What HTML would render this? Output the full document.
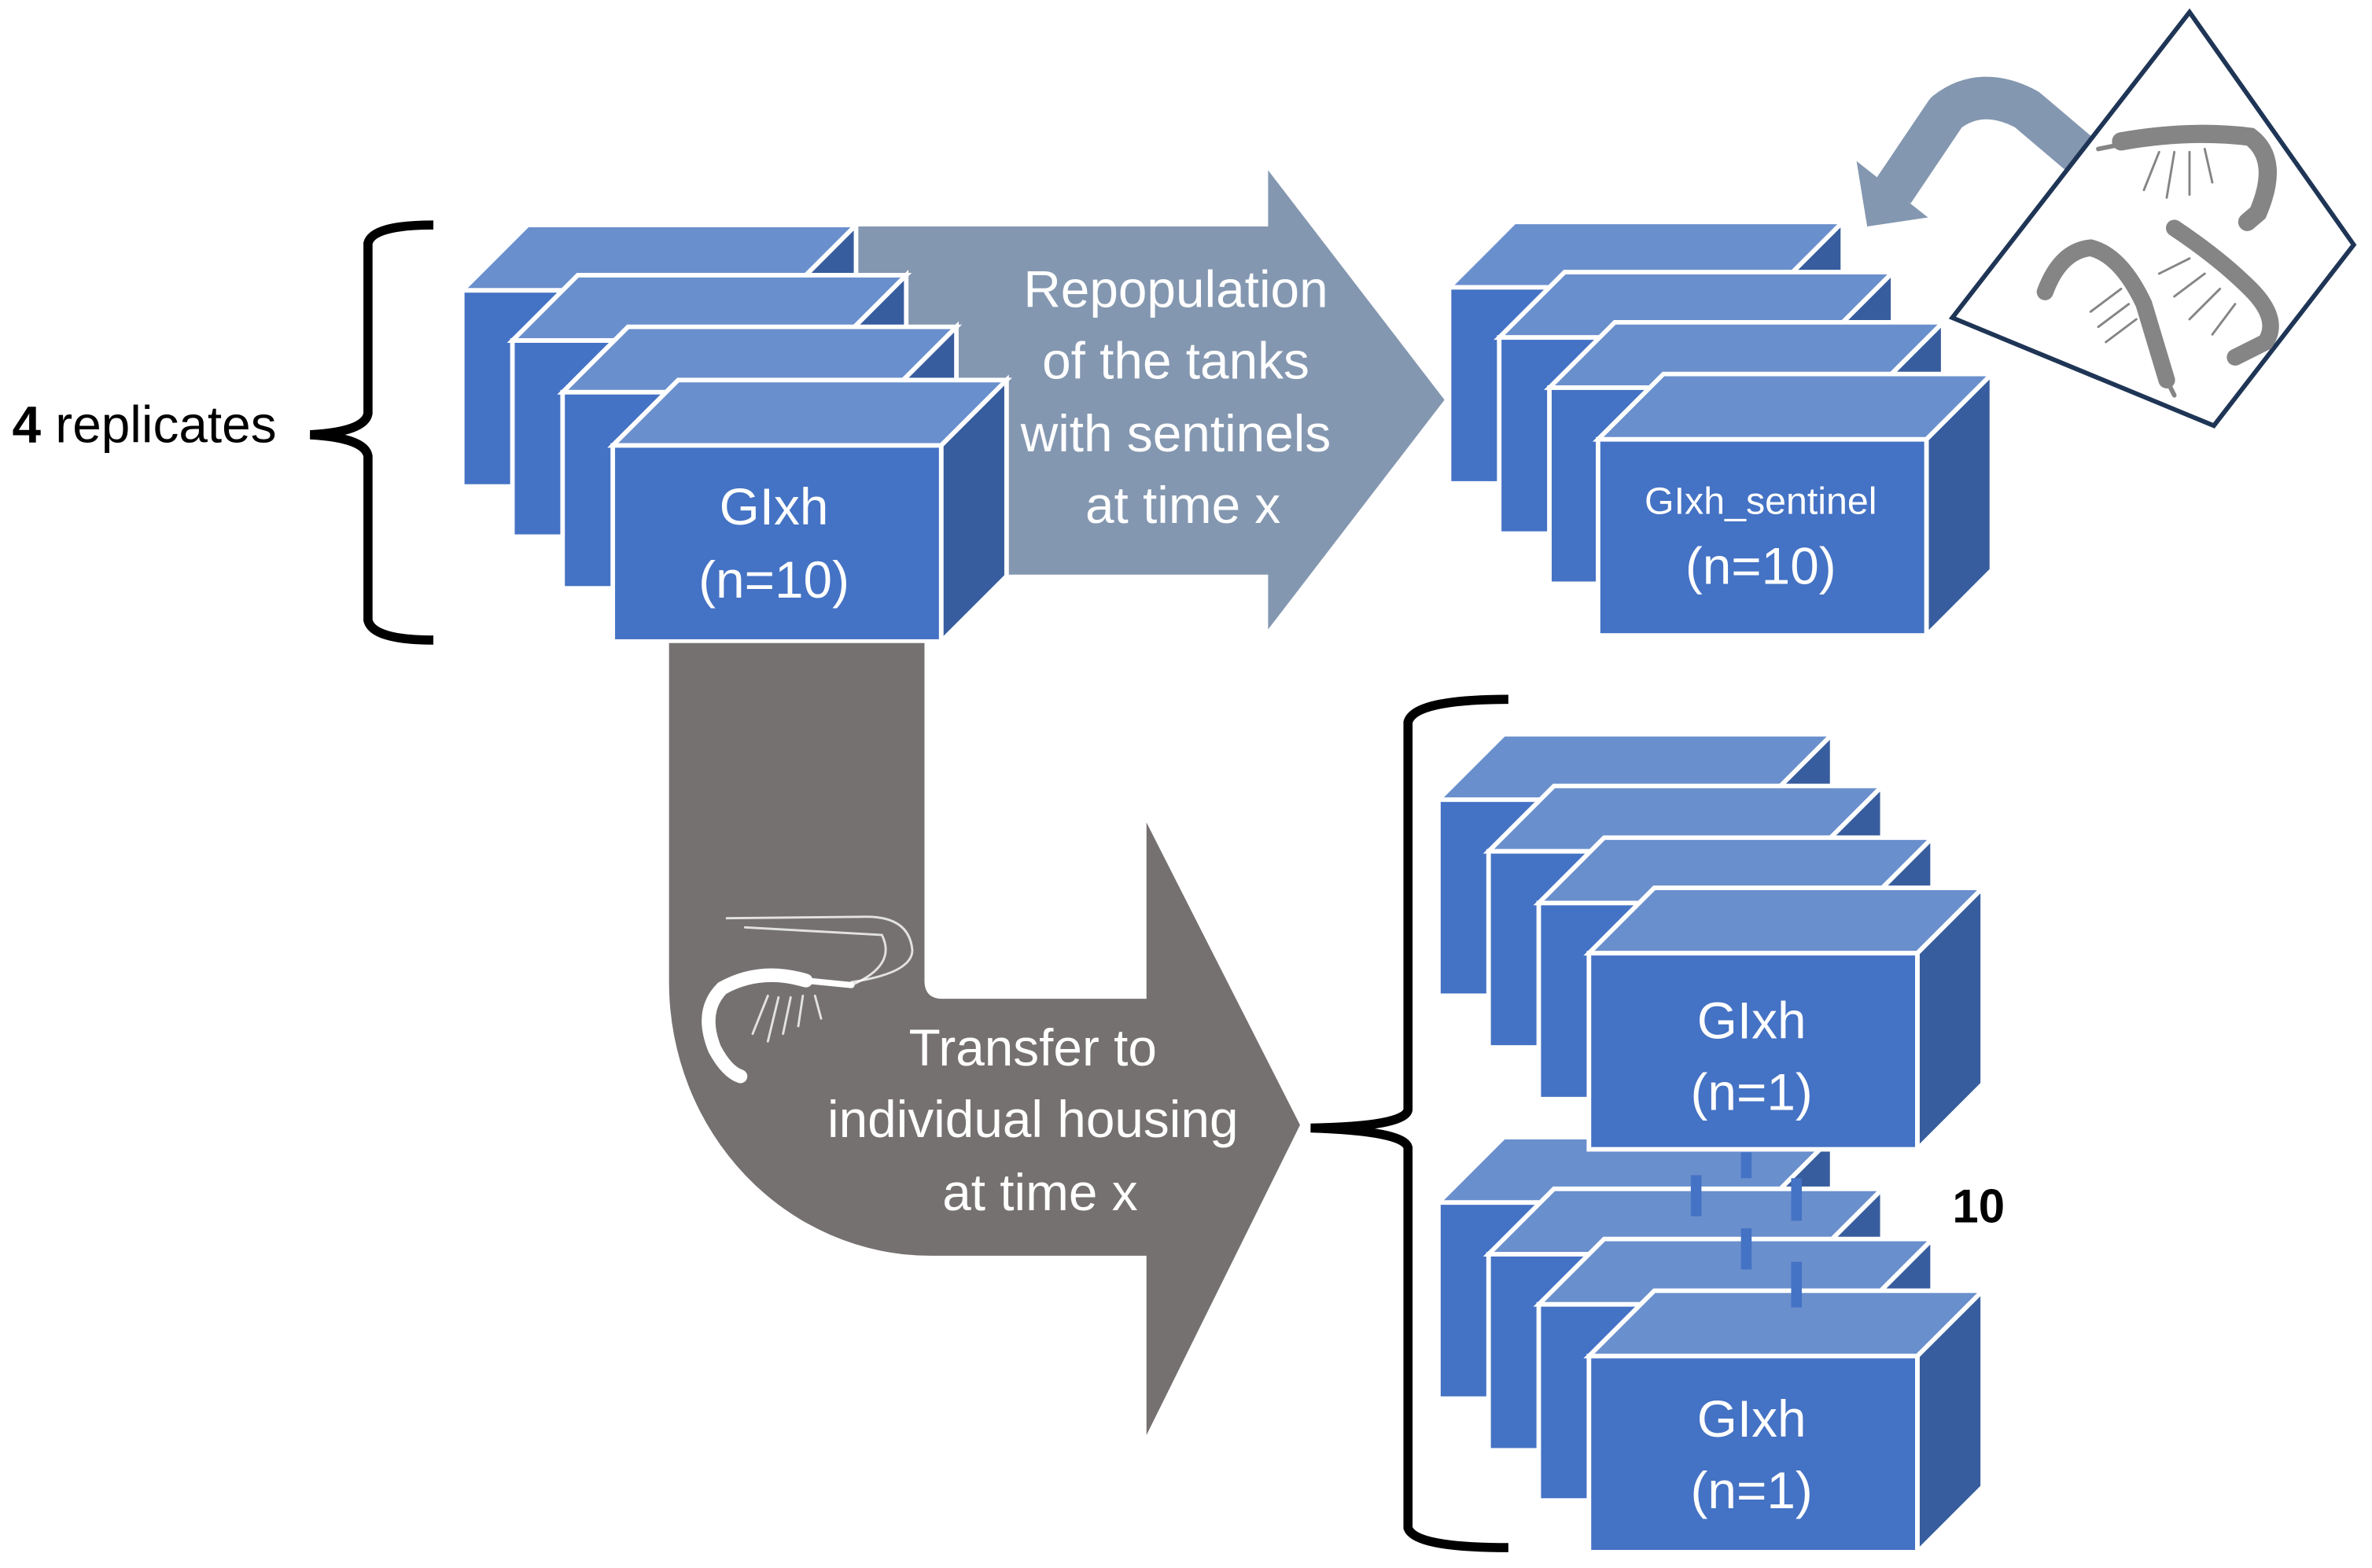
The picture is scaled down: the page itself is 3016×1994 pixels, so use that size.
<!DOCTYPE html>
<html><head><meta charset="utf-8"><style>
html,body{margin:0;padding:0;background:#fff;}
svg{display:block;}
text{font-family:"Liberation Sans",sans-serif;}
</style></head><body>
<svg width="3016" height="1994" viewBox="0 0 1560 1031.4" xmlns="http://www.w3.org/2000/svg">
<defs>
<g id="cube">
<polygon points="0,0 43,-43 259,-43 216,0" fill="#6A8FCD" stroke="#fff" stroke-width="3" stroke-linejoin="miter"/>
<polygon points="216,0 259,-43 259,86 216,129" fill="#385D9E" stroke="#fff" stroke-width="3"/>
<rect x="0" y="0" width="216" height="129" fill="#4472C4" stroke="#fff" stroke-width="3"/>
</g>
</defs>
<rect width="1560" height="1031.4" fill="#fff"/>

<polygon points="558,149 834,149 834,112 950,263 834,414 834,378 558,378" fill="#8497B0"/>
<text fill="#fff" font-size="34" text-anchor="middle">
<tspan x="778" y="202">Repopulation</tspan>
<tspan x="778" y="249">of the tanks</tspan>
<tspan x="778" y="297">with sentinels</tspan>
<tspan x="778" y="344">at time x</tspan>
</text>

<use href="#cube" x="304" y="191"/>
<use href="#cube" x="337" y="224"/>
<use href="#cube" x="370" y="258"/>
<use href="#cube" x="403" y="293"/>
<text fill="#fff" font-size="34" text-anchor="middle"><tspan x="509" y="345">GIxh</tspan><tspan x="509" y="393">(n=10)</tspan></text>

<path d="M440,423 L608,423 L608,645 Q608,657 620,657 L754,657 L754,541 L855,740 L754,944 L754,826 L612,826 A172,180 0 0 1 440,646 Z" fill="#767171"/>
<g fill="none" stroke="#fff" stroke-linecap="round">
<path d="M530,645 Q500,636 475,650 Q460,665 470,690 Q478,705 487,708" stroke-width="9"/>
<path d="M530,645 L560,648" stroke-width="4"/>
<path d="M560,646 Q600,640 600,625 Q598,603 570,603 L478,604" stroke-width="1.5" opacity="0.8"/>
<path d="M560,648 Q590,635 580,615 L490,610" stroke-width="1.5" opacity="0.8"/>
<path d="M505,655 L495,680 M512,656 L505,685 M520,656 L515,680 M528,655 L525,675 M536,655 L540,670" stroke-width="1.5" opacity="0.8"/>
</g>
<text fill="#fff" font-size="34" text-anchor="middle">
<tspan x="684" y="701">Transfer to</tspan>
<tspan x="684" y="748">individual housing</tspan>
<tspan x="684" y="796">at time x</tspan>
</text>

<use href="#cube" x="953" y="189"/>
<use href="#cube" x="986" y="222"/>
<use href="#cube" x="1019" y="255"/>
<use href="#cube" x="1051" y="289"/>
<text fill="#fff" text-anchor="middle"><tspan x="1158" y="338" font-size="25">GIxh_sentinel</tspan><tspan x="1158" y="384" font-size="34">(n=10)</tspan></text>

<use href="#cube" x="946" y="791"/>
<use href="#cube" x="979" y="825"/>
<use href="#cube" x="1012" y="858"/>
<use href="#cube" x="946" y="526"/>
<use href="#cube" x="979" y="560"/>
<use href="#cube" x="1012" y="594"/>
<use href="#cube" x="1045" y="627"/>
<use href="#cube" x="1045" y="892"/>
<g fill="#4472C4">
<rect x="1112" y="773" width="7" height="27"/>
<rect x="1145" y="758" width="7" height="17"/>
<rect x="1145" y="808" width="7" height="27"/>
<rect x="1178" y="775" width="7" height="28"/>
<rect x="1178" y="830" width="7" height="30"/>
</g>
<text fill="#fff" font-size="34" text-anchor="middle"><tspan x="1152" y="683">GIxh</tspan><tspan x="1152" y="730">(n=1)</tspan></text>
<text fill="#fff" font-size="34" text-anchor="middle"><tspan x="1152" y="945">GIxh</tspan><tspan x="1152" y="992">(n=1)</tspan></text>
<text x="1284" y="804" font-size="31" font-weight="bold" fill="#000">10</text>

<path d="M285,148 Q245,148 242,160 L242,272 Q240,284 204,286 Q240,288 242,300 L242,408 Q245,421 285,421" fill="none" stroke="#000" stroke-width="6"/>
<path d="M992,460 Q930,460 926,475 L926,730 Q924,741 862,742 Q924,744 926,755 L926,1005 Q930,1018 992,1018" fill="none" stroke="#000" stroke-width="6"/>
<text x="8" y="291" font-size="34" fill="#000"><tspan font-weight="bold">4</tspan> replicates</text>

<path d="M1373,106 L1333,72 Q1303,56 1280,74 L1245,126" fill="none" stroke="#8497B0" stroke-width="28" stroke-linejoin="round"/>
<polygon points="1221,106 1268,143 1228,149" fill="#8497B0"/>

<polygon points="1440,8 1548,161 1456,280 1284,209" fill="#fff" stroke="#1F3556" stroke-width="3"/>
<g fill="none" stroke="#858585" stroke-linecap="round">
<path d="M1395,93 Q1440,85 1480,90 Q1500,105 1485,140 L1478,146" stroke-width="12"/>
<path d="M1380,98 L1410,92" stroke-width="3"/>
<path d="M1420,100 L1410,125 M1430,100 L1425,130 M1440,100 L1440,128 M1450,98 L1455,120" stroke-width="1.5"/>
<path d="M1345,192 Q1355,165 1375,163 Q1395,168 1410,200 L1425,250" stroke-width="11"/>
<path d="M1425,250 L1430,260" stroke-width="3"/>
<path d="M1395,190 L1375,205 M1400,200 L1380,215 M1405,210 L1385,225" stroke-width="1.5"/>
<path d="M1430,150 Q1460,170 1480,190 Q1500,210 1490,225 L1470,235" stroke-width="11"/>
<path d="M1440,170 L1420,180 M1450,180 L1430,195 M1460,190 L1440,210 M1470,200 L1455,220" stroke-width="1.5"/>
</g>
</svg>
</body></html>
